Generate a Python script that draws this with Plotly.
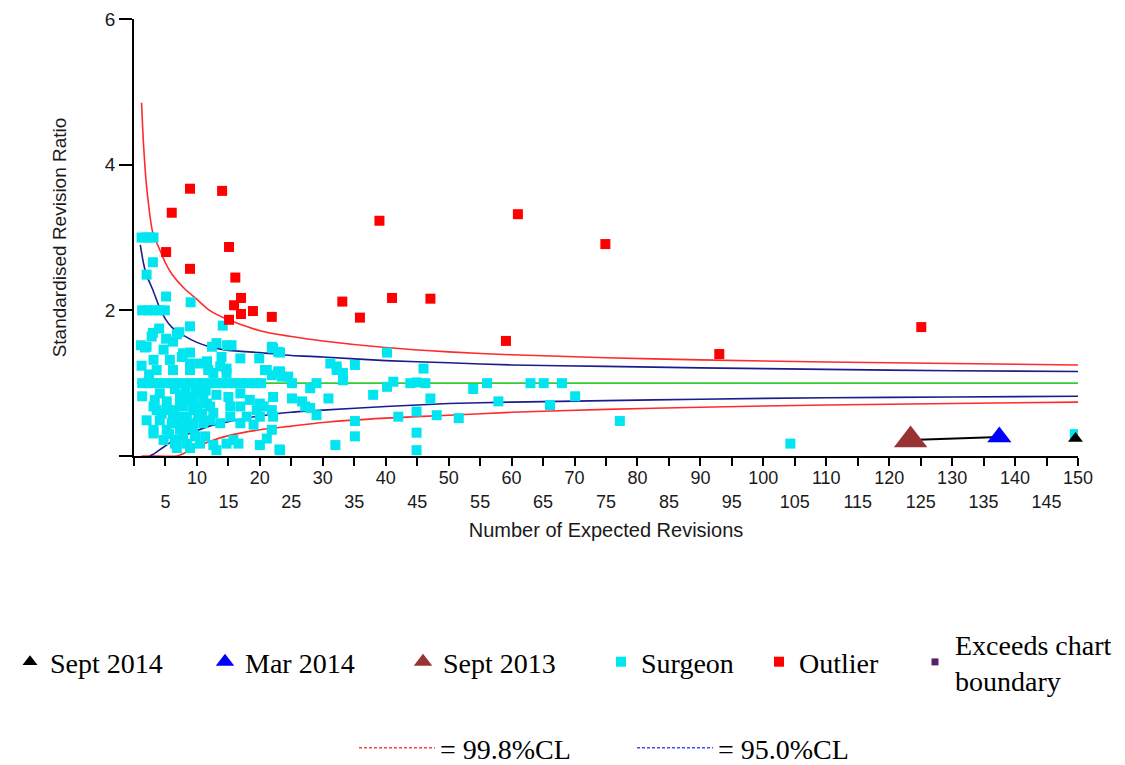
import plotly.graph_objects as go

# ---------------- data ----------------
surgeon_x = [1.2, 1.9, 2.6, 3.1, 3.0, 2.0, 5.1, 9.0,
             1.3, 2.2, 3.1, 4.0, 4.9,
             8.9, 14.1, 4.0, 3.0, 7.2,
             1.75, 5.1, 6.8, 6.2, 3.1, 5.7, 4.7, 8.9, 7.6, 10.5, 12.4, 13.1, 14.8, 13.9, 16.9, 19.9,
             22.1, 23.2, 14.7, 11.8, 8.9, 21.1, 22.9, 24.5, 29.0,
             2.0, 2.8, 3.6, 6.2, 7.8, 8.9, 11.6, 13.7, 14.7, 12.6,
             1.3, 2.2, 3.1, 4.0, 5.0, 6.0, 7.0, 8.0, 9.0, 10.0, 11.0, 12.0, 13.0, 14.0, 15.0, 16.0,
             17.0, 18.0, 19.2, 20.2,
             3.3, 5.2, 7.3, 9.4, 11.0, 13.1, 15.0, 3.6, 5.7, 7.8, 10.0, 12.1, 15.3, 2.0, 4.1, 6.2,
             8.4, 10.2, 12.1, 3.1, 5.2, 7.3, 9.4, 11.3, 4.7, 6.8, 8.4, 12.6, 14.7, 6.8,
             22.1, 25.1, 27.2, 22.1, 20.6, 19.5, 17.9, 16.6, 13.1, 20.0, 21.1, 23.1, 11.0, 13.7, 15.3,
             3.1, 3.1, 4.1, 5.2, 6.0, 6.5, 7.8, 7.8, 7.3, 8.4, 9.4, 9.4, 9.7, 10.5, 8.9, 11.6, 11.0, 12.6,
             21.9, 22.9, 15.5, 20.8, 21.9, 23.2, 23.5, 25.1, 28.0, 31.2, 32.2, 30.9, 26.7, 28.0, 29.0,
             21.9, 20.0, 18.4, 16.9, 16.9, 20.0, 19.0, 16.9, 21.9, 23.2, 15.8, 32.0,
             40.2, 35.1, 46.0, 32.2, 33.2, 33.2, 40.2, 41.2, 43.9, 44.9, 46.3, 38.0, 47.1,
             42.0, 44.9, 48.1, 51.6, 35.1, 35.1, 44.9, 44.9,
             53.9, 56.1, 63.0, 65.1, 68.0, 57.9, 66.1, 70.1, 77.2, 104.3, 149.5,
             6.5, 8.2, 9.8, 11.4, 5.6, 7.0, 8.6, 10.8, 6.4, 9.0, 4.4, 1.1, 1.2, 1.3, 2.4]
surgeon_y = [3.0, 3.0, 3.0, 3.0, 2.66, 2.49, 2.19, 2.11,
             2.0, 2.0, 2.0, 2.0, 2.0,
             1.78, 1.79, 1.75, 1.69, 1.70,
             1.49, 1.61, 1.67, 1.57, 1.32, 1.32, 1.46, 1.42, 1.36, 1.27, 1.50, 1.55, 1.52, 1.36, 1.34, 1.34,
             1.48, 1.42, 1.20, 1.18, 1.18, 1.18, 1.16, 1.09, 1.0,
             1.50, 1.64, 1.18, 1.18, 1.41, 1.27, 1.30, 1.23, 1.14, 1.14,
             1.0, 1.0, 1.0, 1.0, 1.0, 1.0, 1.0, 1.0, 1.0, 1.0, 1.0, 1.0, 1.0, 1.0, 1.0, 1.0,
             1.0, 1.0, 1.0, 1.0,
             0.77, 0.75, 0.84, 0.81, 0.81, 0.84, 0.81, 0.63, 0.63, 0.68, 0.68, 0.68, 0.68, 0.49, 0.49, 0.52,
             0.52, 0.54, 0.49, 0.36, 0.36, 0.36, 0.38, 0.27, 0.22, 0.22, 0.17, 0.15, 0.17, 0.11,
             0.81, 0.79, 0.68, 0.54, 0.68, 0.63, 0.54, 0.17, 0.08, 0.15, 0.24, 0.09, 0.45, 0.45, 0.54,
             0.31, 0.68, 0.86, 0.63, 0.45, 0.17, 0.27, 0.54, 0.72, 0.81, 0.63, 0.45, 0.27, 0.17, 0.11, 0.72, 0.86, 0.59,
             1.50, 1.43, 1.52, 1.18, 1.11, 1.16, 1.09, 1.0, 0.93, 1.27, 1.23, 0.79, 0.75, 0.66, 0.56,
             0.63, 0.72, 0.77, 0.86, 0.68, 0.54, 0.43, 0.45, 0.36, 0.08, 0.22, 0.15,
             1.42, 1.25, 1.20, 1.18, 1.14, 1.04, 0.95, 1.02, 1.0, 1.01, 1.0, 0.84, 0.79,
             0.54, 0.61, 0.56, 0.52, 0.48, 0.27, 0.32, 0.08,
             0.92, 1.0, 1.0, 1.0, 1.0, 0.75, 0.70, 0.82, 0.48, 0.17, 0.30,
             0.92, 0.90, 0.93, 0.90, 0.30, 0.45, 0.40, 0.58, 0.62, 0.76, 0.58, 1.52, 1.24, 0.82, 1.12]

outlier_x = [6.0, 8.9, 14.0, 5.1, 8.9, 15.1, 16.1, 17.0, 15.9, 17.0, 18.9, 15.1, 21.9,
             33.1, 35.9, 39.0, 41.0, 47.1, 61.0, 59.1, 74.9, 93.0, 125.1]
outlier_y = [3.34, 3.67, 3.64, 2.80, 2.57, 2.87, 2.45, 2.17, 2.07, 1.95, 1.99, 1.87, 1.91,
             2.12, 1.90, 3.23, 2.17, 2.16, 3.32, 1.58, 2.91, 1.40, 1.77]

# control limits
cl998_up_x = [1.2, 1.5, 2, 3, 4, 5, 6, 8, 10, 12, 15, 20, 25, 30, 40, 50, 60, 75, 90, 110, 130, 150]
cl998_up_y = [4.85, 4.3, 3.7, 3.06, 2.85, 2.65, 2.5, 2.3, 2.15, 2.0, 1.87, 1.72, 1.64, 1.58, 1.49,
              1.43, 1.39, 1.35, 1.32, 1.29, 1.27, 1.25]
cl95_up_x = [1.0, 1.5, 2, 3, 4, 5, 6, 8, 10, 12, 15, 20, 25, 30, 40, 50, 60, 75, 90, 110, 130, 150]
cl95_up_y = [2.9, 2.65, 2.48, 2.28, 2.05, 1.88, 1.77, 1.65, 1.56, 1.5, 1.45, 1.42, 1.38, 1.36, 1.31,
             1.28, 1.25, 1.23, 1.21, 1.19, 1.17, 1.16]
cl95_lo_x = [2.5, 3, 4, 5, 6, 8, 10, 12, 15, 20, 25, 30, 40, 50, 60, 75, 90, 110, 130, 150]
cl95_lo_y = [0.0, 0.02, 0.08, 0.14, 0.2, 0.28, 0.35, 0.41, 0.47, 0.55, 0.6, 0.63, 0.68, 0.72, 0.74,
             0.76, 0.78, 0.8, 0.81, 0.82]
cl998_lo_x = [1.2, 3, 6.8, 8, 10, 12, 15, 20, 25, 30, 40, 50, 60, 75, 90, 110, 130, 150]
cl998_lo_y = [0.0, 0.0, 0.0, 0.04, 0.13, 0.2, 0.28, 0.36, 0.41, 0.46, 0.52, 0.56, 0.6, 0.64, 0.67,
              0.7, 0.72, 0.74]
target_x = [0.5, 150]
target_y = [1.0, 1.0]

sept2013_x, sept2013_y = [123.4], [0.22]
mar2014_x, mar2014_y = [137.5], [0.26]
sept2014_x, sept2014_y = [149.6], [0.24]

x_major = list(range(10, 151, 10))
x_minor = list(range(5, 150, 10))
y_ticks = [0, 2, 4, 6]
y_labels = ["", "2", "4", "6"]

# ---------------- figure ----------------
fig = go.Figure()

RED = "#ff2a2a"
NAVY = "#1c1c8c"

def curve(x, y, color):
    fig.add_trace(go.Scatter(x=x, y=y, mode="lines", line=dict(color=color, width=1.6, shape="spline", smoothing=0.6),
                             showlegend=False, hoverinfo="skip", cliponaxis=True))

curve(target_x, target_y, "#33cc33")
curve(cl998_up_x, cl998_up_y, RED)
curve(cl998_lo_x, cl998_lo_y, RED)
curve(cl95_up_x, cl95_up_y, NAVY)
curve(cl95_lo_x, cl95_lo_y, NAVY)

fig.add_trace(go.Scatter(x=surgeon_x, y=surgeon_y, mode="markers", name="Surgeon",
                         marker=dict(symbol="square", size=10, color="#00e5f0"), legend="legend4"))
fig.add_trace(go.Scatter(x=outlier_x, y=outlier_y, mode="markers", name="Outlier",
                         marker=dict(symbol="square", size=10, color="#ff0000"), legend="legend5"))

# path of the surgeon over time
fig.add_trace(go.Scatter(x=sept2013_x + mar2014_x, y=sept2013_y + mar2014_y, mode="lines",
                         line=dict(color="black", width=2), showlegend=False, cliponaxis=False))
fig.add_trace(go.Scatter(x=sept2013_x, y=sept2013_y, mode="markers", name="Sept 2013",
                         marker=dict(symbol="triangle-up", size=29, color="#993333"), legend="legend3",
                         cliponaxis=False))
fig.add_trace(go.Scatter(x=mar2014_x, y=mar2014_y, mode="markers", name="Mar 2014",
                         marker=dict(symbol="triangle-up", size=21, color="#0000ff"), legend="legend2",
                         cliponaxis=False))
fig.add_trace(go.Scatter(x=sept2014_x, y=sept2014_y, mode="markers", name="Sept 2014",
                         marker=dict(symbol="triangle-up", size=13, color="#000000"), legend="legend",
                         cliponaxis=False))
fig.add_trace(go.Scatter(x=[None], y=[None], mode="markers", name="Exceeds chart<br>boundary",
                         marker=dict(symbol="square", size=7, color="#552266"), legend="legend6"))
fig.add_trace(go.Scatter(x=[None], y=[None], mode="lines", name="= 99.8%CL",
                         line=dict(color="#ff4040", width=1.4, dash="3px,2px"), legend="legend7"))
fig.add_trace(go.Scatter(x=[None], y=[None], mode="lines", name="= 95.0%CL",
                         line=dict(color="#4848ff", width=1.4, dash="3px,2px"), legend="legend8"))

# second row of x tick labels
fig.add_trace(go.Scatter(x=[0, 150], y=[None, None], xaxis="x2", showlegend=False, hoverinfo="skip"))

L, R, T, B = 134, 47, 19, 309
W, H = 1125, 765

legend_font = dict(family="Liberation Serif", size=28, color="black")

def leg(text_start_px, cy, itemwidth=30):
    x0 = text_start_px - itemwidth - 10
    return dict(x=x0 / W, y=1 - cy / H, xref="container", yref="container",
                xanchor="left", yanchor="middle", orientation="h",
                font=legend_font, bgcolor="rgba(0,0,0,0)", borderwidth=0,
                itemsizing="trace", itemwidth=itemwidth, itemclick=False, itemdoubleclick=False)

fig.update_layout(
    width=W, height=H,
    margin=dict(l=L, r=R, t=T, b=B, pad=0, autoexpand=False),
    paper_bgcolor="white", plot_bgcolor="white",
    font=dict(family="Liberation Sans", color="#1a1a1a"),
    legend=leg(50, 662), legend2=leg(245, 662), legend3=leg(443, 662),
    legend4=leg(641, 662), legend5=leg(799, 662), legend6=leg(955, 662),
    legend7=leg(440, 748, 76), legend8=leg(718, 748, 76),
    xaxis=dict(range=[0, 150], tickvals=[0] + x_major + x_minor,
               ticktext=[""] + [str(v) for v in x_major] + [""] * len(x_minor),
               ticks="outside", ticklen=8, tickwidth=1.5, tickcolor="black", ticklabelstandoff=-3,
               showline=True, linecolor="black", linewidth=1.5, showgrid=False, zeroline=False,
               tickfont=dict(size=18, color="#1a1a1a"), automargin=False,
               title=dict(text="Number of Expected Revisions", font=dict(size=20, color="#1a1a1a"), standoff=36)),
    xaxis2=dict(range=[0, 150], overlaying="x", matches="x", side="bottom", anchor="y",
                tickvals=x_minor, ticktext=[str(v) for v in x_minor], ticks="", showline=False,
                showgrid=False, zeroline=False, ticklabelstandoff=33, automargin=False,
                tickfont=dict(size=18, color="#1a1a1a")),
    yaxis=dict(range=[0, 6], tickvals=y_ticks, ticktext=y_labels, ticks="outside", ticklen=13,
               tickwidth=1.5, tickcolor="black", showline=True, linecolor="black", linewidth=1.5,
               showgrid=False, zeroline=False, tickfont=dict(size=19, color="#1a1a1a"), automargin=False,
               title=dict(text="Standardised Revision Ratio", font=dict(size=19, color="#1a1a1a"), standoff=33)),
)

fig.write_html("out.html")
